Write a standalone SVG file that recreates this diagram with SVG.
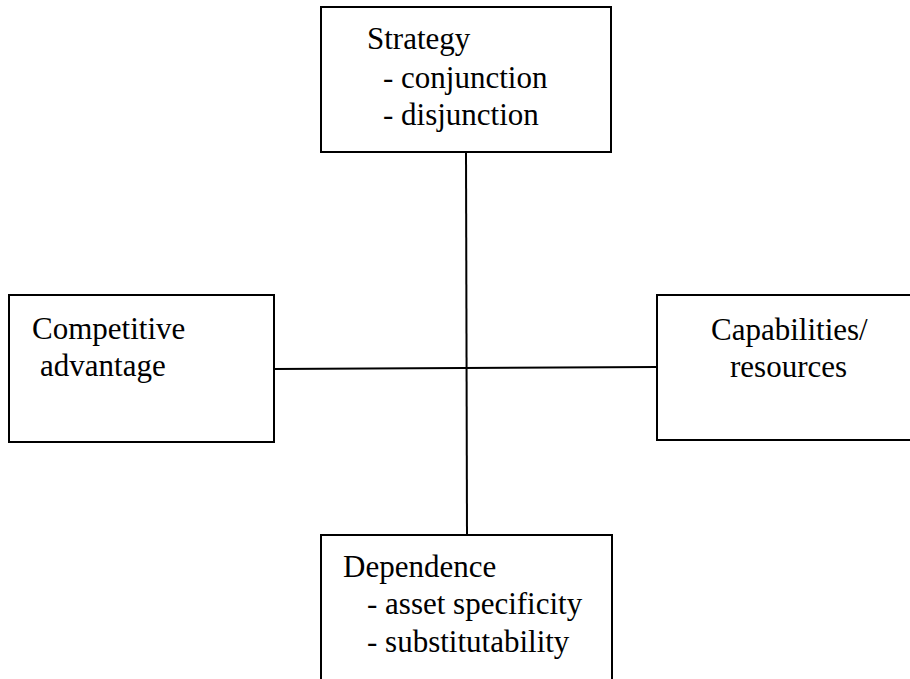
<svg xmlns="http://www.w3.org/2000/svg" width="910" height="679" viewBox="0 0 910 679">
<style>
.box{fill:#fff;stroke:#000;stroke-width:2}
.ln{stroke:#000;stroke-width:2;fill:none}
text{font-family:"Liberation Serif","Times New Roman",serif;font-size:31px;fill:#000}
</style>
<rect width="910" height="679" fill="#fff"/>
<g id="connectors">
<line class="ln" x1="466" y1="152" x2="467" y2="535"/>
<line class="ln" x1="274" y1="369" x2="657" y2="367"/>
</g>
<g id="strategy">
<rect class="box" x="321" y="7" width="290" height="145"/>
<text x="367" y="49">Strategy</text>
<text x="383" y="88">- conjunction</text>
<text x="383" y="125">- disjunction</text>
</g>
<g id="competitive">
<rect class="box" x="9" y="295" width="265" height="147"/>
<text x="32" y="339">Competitive</text>
<text x="40" y="376">advantage</text>
</g>
<g id="capabilities">
<rect class="box" x="657" y="295" width="260" height="145"/>
<text x="711" y="340">Capabilities/</text>
<text x="730" y="377">resources</text>
</g>
<g id="dependence">
<rect class="box" x="321" y="535" width="291" height="160"/>
<text x="343" y="577">Dependence</text>
<text x="367" y="614">- asset specificity</text>
<text x="367" y="652">- substitutability</text>
</g>
</svg>
